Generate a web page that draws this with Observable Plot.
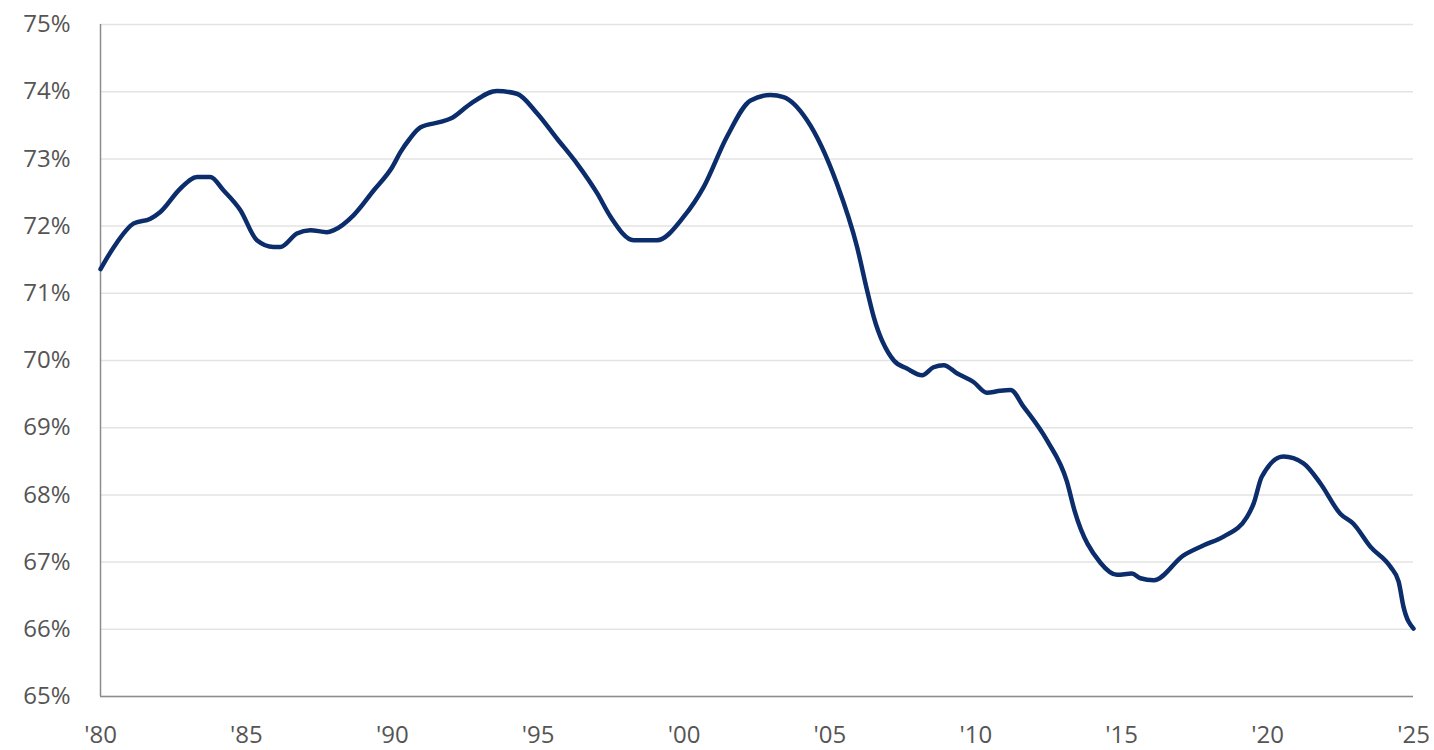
<!DOCTYPE html>
<html>
<head>
<meta charset="utf-8">
<script src="https://cdn.jsdelivr.net/npm/d3@7"></script>
<script src="https://cdn.jsdelivr.net/npm/@observablehq/plot@0.6"></script>
<style>
  html, body { margin: 0; padding: 0; background: #fff; }
  #chart svg { display: block; }
</style>
</head>
<body>
<div id="chart"></div>
<script>
const years = [
  1980.0, 1980.46, 1981.14, 1981.71, 1982.05, 1982.74, 1983.31, 1983.76, 1984.22, 1984.79,
  1985.36, 1985.93, 1986.16, 1986.73, 1987.19, 1987.76, 1988.0, 1988.67, 1989.36, 1990.0,
  1990.28, 1990.6, 1990.97, 1991.65, 1992.0, 1992.68, 1993.59, 1994.27, 1994.96, 1995.65,
  1996.33, 1997.02, 1997.48, 1998.27, 1999.07, 1999.99, 2000.67, 2001.47, 2002.28, 2002.96,
  2003.41, 2004.21, 2005.24, 2005.93, 2006.27, 2006.5, 2007.19, 2007.64, 2008.16, 2008.55,
  2008.9, 2009.35, 2009.92, 2010.38, 2010.84, 2011.19, 2011.64, 2012.44, 2013.12, 2013.38,
  2014.27, 2014.84, 2015.35, 2015.64, 2016.1, 2017.12, 2017.81, 2018.49, 2019.29, 2019.52,
  2019.8, 2020.54, 2021.23, 2021.81, 2022.49, 2022.94, 2023.52, 2024.21, 2024.49, 2024.66,
  2025.0
];
const values = [
  71.36, 71.69, 72.04, 72.11, 72.21, 72.56, 72.73, 72.73, 72.53, 72.24,
  71.79, 71.69, 71.69, 71.89, 71.94, 71.91, 71.94, 72.16, 72.53, 72.88,
  73.10, 73.30, 73.47, 73.55, 73.60, 73.82, 74.01, 73.97, 73.68, 73.30,
  72.93, 72.49, 72.14, 71.79, 71.79, 72.14, 72.58, 73.33, 73.87, 73.95,
  73.92, 73.58, 72.63, 71.69, 71.05, 70.65, 70.00, 69.88, 69.78, 69.90,
  69.93, 69.81, 69.68, 69.52, 69.55, 69.56, 69.31, 68.81, 68.20, 67.77,
  66.99, 66.81, 66.83, 66.76, 66.73, 67.10, 67.25, 67.38, 67.67, 67.87,
  68.27, 68.57, 68.47, 68.17, 67.72, 67.57, 67.23, 66.93, 66.71, 66.33,
  66.01
];
const yTicks = [65, 66, 67, 68, 69, 70, 71, 72, 73, 74, 75];
const xTicks = [1980, 1985, 1990, 1995, 2000, 2005, 2010, 2015, 2020, 2025];

const data = years.map((y, i) => ({year: y, value: values[i]}));

const chart = Plot.plot({
  width: 1434,
  height: 750,
  marginLeft: 100,
  marginRight: 21,
  marginTop: 24,
  marginBottom: 54,
  style: {fontFamily: "'Open Sans', sans-serif", fontSize: "24px", color: "#555555", background: "#fff"},
  x: {domain: [1980, 2025], label: null},
  y: {domain: [65, 75], label: null},
  marks: [
    Plot.gridY(yTicks, {stroke: "#e3e3e3", strokeOpacity: 1, strokeWidth: 1.5}),
    Plot.ruleX([1980], {stroke: "#8c8c8c", strokeWidth: 1.5}),
    Plot.ruleY([65], {stroke: "#8c8c8c", strokeWidth: 1.5}),
    Plot.axisY(yTicks, {tickSize: 0, tickPadding: 30, tickFormat: d => d + "%", fontSize: 24, fill: "#555555"}),
    Plot.axisX(xTicks, {tickSize: 0, tickPadding: 29, tickFormat: d => "'" + String(d).slice(2), fontSize: 24, fill: "#555555"}),
    Plot.line(data, {x: "year", y: "value", stroke: "#0c2d6b", strokeWidth: 4.5, curve: "monotone-x"})
  ]
});
document.getElementById("chart").appendChild(chart);
</script>
</body>
</html>
